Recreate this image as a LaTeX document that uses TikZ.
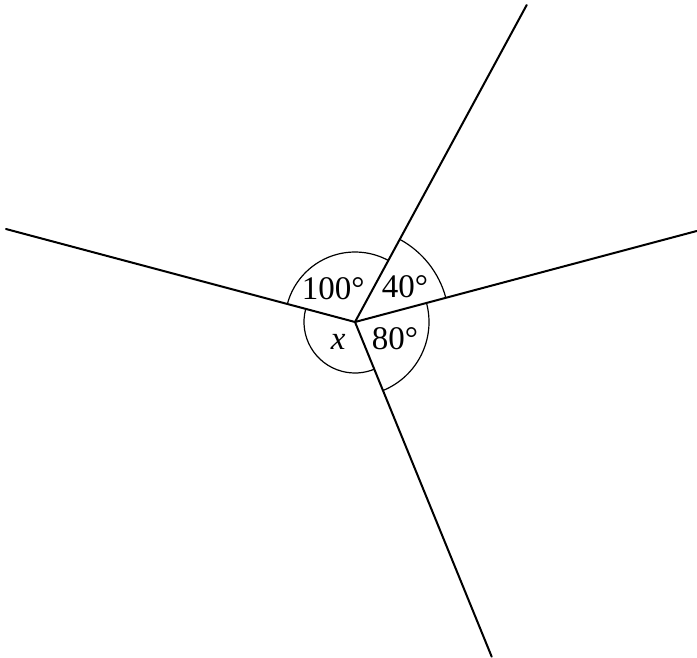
\documentclass[tikz,border=0pt]{standalone}
\usepackage{fontspec}
\setmainfont{Liberation Serif}
\usetikzlibrary{calc}
\tikzset{
  ray/.style={line width=2pt, line cap=round},
  anglearc/.style={line width=1.2pt},
  lbl/.style={font=\fontsize{33}{38}\selectfont, inner sep=0pt}
}
\begin{document}
\begin{tikzpicture}[x=1pt,y=1pt]
\useasboundingbox (0,0) rectangle (697,-657);
\coordinate (c) at (355,-322);
\coordinate (up) at (526.7,-5);
\coordinate (rt) at (696.7,-231);
\coordinate (lf) at (6,-229);
\coordinate (dn) at (491.7,-656.7);
% angle arcs
\draw[anglearc] ($(c)+(165.08:70)$) arc[start angle=165.08, end angle=61.56, radius=70];
\draw[anglearc] ($(c)+(61.56:94)$) arc[start angle=61.56, end angle=14.91, radius=94];
\draw[anglearc] ($(c)+(14.91:74)$) arc[start angle=14.91, end angle=-67.78, radius=74];
\draw[anglearc] ($(c)+(165.08:51)$) arc[start angle=165.08, end angle=292.22, radius=51];
% rays
\draw[ray] (c) -- (up);
\draw[ray] (c) -- (rt);
\draw[ray] (c) -- (lf);
\draw[ray] (c) -- (dn);
% labels
\node[lbl] (a100) at (333.3,-288.3) {100°};
\node[lbl] (a40) at (405,-286.7) {40°};
\node[lbl] (a80) at (395,-338.3) {80°};
\node[lbl] (ax) at (338.3,-342) {\itshape x};
\end{tikzpicture}
\end{document}
